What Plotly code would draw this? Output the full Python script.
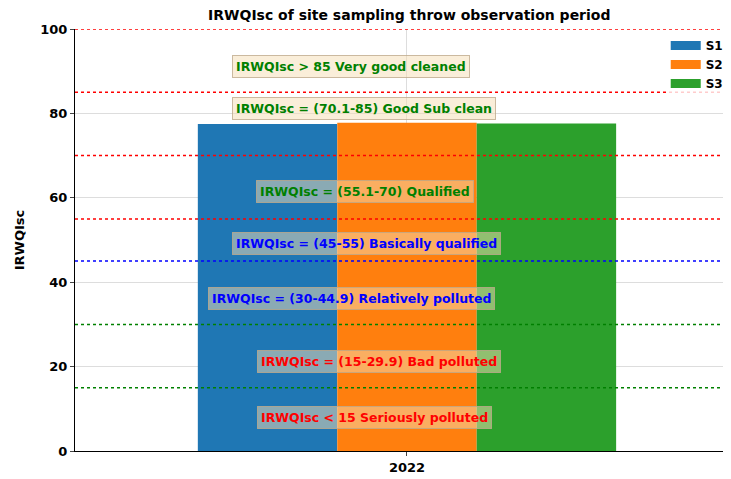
import plotly.graph_objects as go

# data
years = ['2022']
sites = ['S1', 'S2', 'S3']
site_values = [77.5, 77.8, 77.6]
site_colors = ['#1f77b4', '#ff7f0e', '#2ca02c']

class_limits = [100, 85, 70, 55, 45, 30, 15]
limit_colors = ['red', 'red', 'red', 'red', 'blue', 'green', 'green']

class_labels = ['IRWQIsc > 85 Very good cleaned',
                'IRWQIsc = (70.1-85) Good Sub clean',
                'IRWQIsc = (55.1-70) Qualified',
                'IRWQIsc = (45-55) Basically qualified',
                'IRWQIsc = (30-44.9) Relatively polluted',
                'IRWQIsc = (15-29.9) Bad polluted',
                'IRWQIsc < 15 Seriously polluted']
label_y = [91.2, 81.2, 61.4, 49.2, 36.2, 21.3, 8.0]
label_x = [0.239, 0.239, 0.276, 0.239, 0.203, 0.278, 0.278]
label_colors = ['green', 'green', 'green', 'blue', 'blue', 'red', 'red']

font_family = 'DejaVu Sans'

fig = go.Figure()
for name, val, col in zip(sites, site_values, site_colors):
    fig.add_trace(go.Bar(x=years, y=[val], name=name, showlegend=False,
                         marker=dict(color=col, line=dict(width=0))))
# wide legend patches like the original
for name, col in zip(sites, site_colors):
    fig.add_trace(go.Scatter(x=[None], y=[None], mode='lines', name=name,
                             line=dict(color=col, width=9)))

for lim, col in zip(class_limits, limit_colors):
    fig.add_shape(type='line', xref='paper', yref='y', x0=0, x1=1, y0=lim, y1=lim,
                  line=dict(color=col, width=1.5, dash='dot'), layer='above')

for txt, yy, xx, col in zip(class_labels, label_y, label_x, label_colors):
    fig.add_annotation(text='<b>' + txt + '</b>', xref='paper', yref='y', x=xx, y=yy,
                       xanchor='left', yanchor='middle', showarrow=False,
                       font=dict(family=font_family, size=12.5, color=col),
                       bgcolor='rgba(245,222,179,0.5)', bordercolor='rgba(190,170,140,0.8)',
                       borderwidth=1, borderpad=3)

# page body has an 8px margin, so the figure is shifted accordingly
fig.update_layout(
    width=723, height=471,
    margin=dict(l=67, r=0, t=21, b=28),
    paper_bgcolor='white', plot_bgcolor='white',
    barmode='group', bargap=0.37, bargroupgap=0,
    title=dict(text='<b>IRWQIsc of site sampling throw observation period</b>',
               x=0.555, xanchor='center', y=0.995, yanchor='top',
               font=dict(family=font_family, size=14, color='black')),
    font=dict(family=font_family, size=13, color='black'),
    legend=dict(x=0.995, xanchor='right', y=0.995, yanchor='top', bgcolor='rgba(255,255,255,0.8)',
                borderwidth=0, itemwidth=30, tracegroupgap=0,
                font=dict(family=font_family, size=12, color='black', weight='bold')),
    showlegend=True,
)
fig.update_xaxes(range=[-0.5, 0.488], showline=True, linecolor='black', linewidth=1,
                 ticks='outside', ticklen=4, showgrid=True, gridcolor='#dddddd',
                 tickfont=dict(weight='bold'), mirror=False)
fig.update_yaxes(range=[0, 100], tickvals=[0, 20, 40, 60, 80, 100], showline=True,
                 linecolor='black', linewidth=1, ticks='outside', ticklen=4,
                 showgrid=True, gridcolor='#dddddd', zeroline=False,
                 tickfont=dict(weight='bold', size=13),
                 title=dict(text='<b>IRWQIsc</b>', font=dict(size=13), standoff=12))

fig.write_html('out.html')
